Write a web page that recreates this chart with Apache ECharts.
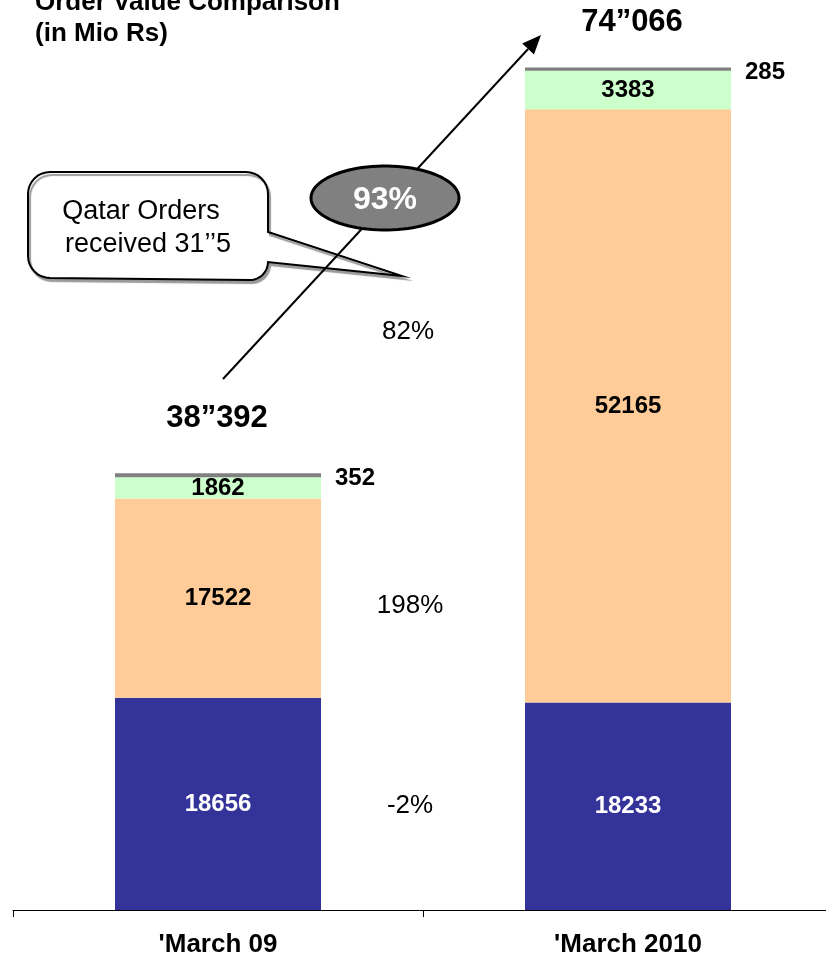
<!DOCTYPE html>
<html>
<head>
<meta charset="utf-8">
<script src="https://cdn.jsdelivr.net/npm/echarts@6/dist/echarts.min.js"></script>
<style>
html,body{margin:0;padding:0;background:#fff;}
#main{width:826px;height:960px;}
</style>
</head>
<body>
<div id="main"></div>
<script>
var categories = ["'March 09", "'March 2010"];
var baseOrders = [18656, 18233];
var projectOrders = [17522, 52165];
var otherOrders = [1862, 3383];
var miscOrders = [352, 285];
var totalLabels = ['38\u201d392', '74\u201d066'];
var growthLabels = ['82%', '198%', '-2%'];
var overallGrowth = '93%';
var calloutLines = ['Qatar Orders', 'received 31\u2019\u20195'];
var titleLines = ['Order Value Comparison', '(in Mio Rs)'];

var FONT = "'Liberation Sans', Arial, sans-serif";
var chart = echarts.init(document.getElementById('main'), null, {renderer: 'canvas'});

function boldLabel(color, pos) {
  return {show: true, position: pos || 'inside', color: color, fontWeight: 'bold',
          fontSize: 24, fontFamily: FONT};
}

var tail = [223, 379], tip = [541, 35];
var dx = tip[0] - tail[0], dy = tip[1] - tail[1];
var L = Math.sqrt(dx * dx + dy * dy), ux = dx / L, uy = dy / L;
var hl = 19, hw = 8;
var bx = tip[0] - hl * ux, by = tip[1] - hl * uy;
var px = -uy, py = ux;

function ellipsePts(cx, cy, rx, ry) {
  var pts = [];
  for (var i = 0; i < 90; i++) {
    var a = i / 90 * Math.PI * 2;
    pts.push([cx + rx * Math.cos(a), cy + ry * Math.sin(a)]);
  }
  return pts;
}
function arc(cx, cy, r, a0, a1) {
  var pts = [];
  for (var i = 0; i <= 8; i++) {
    var a = a0 + (a1 - a0) * i / 8;
    pts.push([cx + r * Math.cos(a), cy + r * Math.sin(a)]);
  }
  return pts;
}
var R = 22, X0 = 28, X1 = 268, Y0 = 172, Y1 = 278;
var calloutPts = []
  .concat(arc(X0 + R, Y0 + R, R, Math.PI, Math.PI * 1.5))
  .concat(arc(X1 - R, Y0 + R, R, Math.PI * 1.5, Math.PI * 2))
  .concat([[X1, 232], [402, 276], [X1, 262]])
  .concat(arc(X1 - 18, Y1 - 16, 18, 0, Math.PI * 0.5))
  .concat(arc(X0 + R, Y1 - R, R, Math.PI * 0.5, Math.PI));

var option = {
  animation: false,
  backgroundColor: '#ffffff',
  grid: {left: 13, width: 820, top: 0, bottom: 50, containLabel: false, outerBoundsMode: 'none'},
  xAxis: {
    type: 'category', data: categories,
    axisLine: {lineStyle: {color: '#000', width: 1}},
    axisTick: {show: true, length: 7, lineStyle: {color: '#000'}},
    axisLabel: {color: '#000', fontWeight: 'bold', fontSize: 26, fontFamily: FONT, margin: 22}
  },
  yAxis: {type: 'value', min: 0, max: 80000, show: false, splitLine: {show: false}},
  series: [
    {type: 'bar', stack: 't', data: baseOrders, barWidth: 206,
     itemStyle: {color: '#333399'}, label: boldLabel('#ffffff')},
    {type: 'bar', stack: 't', data: projectOrders,
     itemStyle: {color: '#FFCC99'}, label: boldLabel('#000000')},
    {type: 'bar', stack: 't', data: otherOrders,
     itemStyle: {color: '#CCFFCC'}, label: boldLabel('#000000')},
    {type: 'bar', stack: 't', data: miscOrders,
     itemStyle: {color: '#808080'},
     label: Object.assign(boldLabel('#000000', 'right'), {distance: 14, offset: [0, 3]})}
  ],
  graphic: [
    {type: 'text', x: 35, y: 3, style: {text: titleLines[0], font: 'bold 26px ' + FONT, fill: '#000', textVerticalAlign: 'middle'}},
    {type: 'text', x: 35, y: 34, style: {text: titleLines[1], font: 'bold 26px ' + FONT, fill: '#000', textVerticalAlign: 'middle'}},
    {type: 'polygon', z: 10, shape: {points: calloutPts},
     style: {fill: '#ffffff', stroke: '#000', lineWidth: 2, shadowColor: '#999', shadowOffsetX: 2, shadowOffsetY: 3, shadowBlur: 1}},
    {type: 'text', z: 11, x: 141, y: 212, style: {text: calloutLines[0], font: '27px ' + FONT, fill: '#000', textAlign: 'center', textVerticalAlign: 'middle'}},
    {type: 'text', z: 11, x: 148, y: 245, style: {text: calloutLines[1], font: '27px ' + FONT, fill: '#000', textAlign: 'center', textVerticalAlign: 'middle'}},
    {type: 'line', z: 12, shape: {x1: tail[0], y1: tail[1], x2: bx, y2: by}, style: {stroke: '#000', lineWidth: 2}},
    {type: 'polygon', z: 12, shape: {points: [[tip[0], tip[1]], [bx + hw * px, by + hw * py], [bx - hw * px, by - hw * py]]}, style: {fill: '#000'}},
    {type: 'polygon', z: 13, shape: {points: ellipsePts(385, 198, 74, 32)}, style: {fill: '#808080', stroke: '#000', lineWidth: 3}},
    {type: 'text', z: 14, x: 385, y: 200, style: {text: overallGrowth, font: 'bold 32px ' + FONT, fill: '#ffffff', textAlign: 'center', textVerticalAlign: 'middle'}},
    {type: 'text', x: 217, y: 418, style: {text: totalLabels[0], font: 'bold 31px ' + FONT, fill: '#000', textAlign: 'center', textVerticalAlign: 'middle'}},
    {type: 'text', x: 632, y: 22, style: {text: totalLabels[1], font: 'bold 31px ' + FONT, fill: '#000', textAlign: 'center', textVerticalAlign: 'middle'}},
    {type: 'text', x: 408, y: 332, style: {text: growthLabels[0], font: '26px ' + FONT, fill: '#000', textAlign: 'center', textVerticalAlign: 'middle'}},
    {type: 'text', x: 410, y: 606, style: {text: growthLabels[1], font: '26px ' + FONT, fill: '#000', textAlign: 'center', textVerticalAlign: 'middle'}},
    {type: 'text', x: 410, y: 806, style: {text: growthLabels[2], font: '26px ' + FONT, fill: '#000', textAlign: 'center', textVerticalAlign: 'middle'}}
  ]
};
chart.setOption(option);
</script>
</body>
</html>
